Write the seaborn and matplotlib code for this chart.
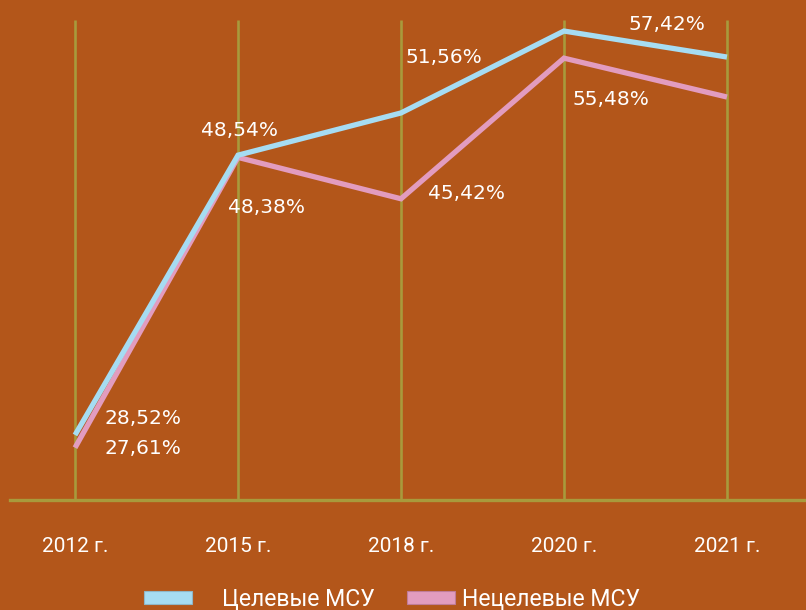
import matplotlib
matplotlib.use("Agg")
import matplotlib.pyplot as plt
from matplotlib.patches import Patch
import seaborn as sns
import pandas as pd

# Data
years = ["2012 г.", "2015 г.", "2018 г.", "2020 г.", "2021 г."]
target_msu = [28.52, 48.54, 51.56, 57.42, 55.56]
nontarget_msu = [27.61, 48.38, 45.42, 55.48, 52.70]
series_names = ["Целевые МСУ", "Нецелевые МСУ"]
target_labels = ["28,52%", "48,54%", "51,56%", "57,42%", None]
nontarget_labels = ["27,61%", "48,38%", "45,42%", "55,48%", None]

BG = "#B3561A"
GRID = "#A89A3C"
BLUE = "#A6DCF2"
PINK = "#E29CBF"

sns.set_theme(style="white")
plt.rcParams["font.family"] = ["DejaVu Sans"]
NARROW = ["Roboto", "DejaVu Sans"]

pos = list(range(len(years)))
df = pd.DataFrame({
    "pos": pos * 2,
    "value": target_msu + nontarget_msu,
    "series": [series_names[0]] * len(years) + [series_names[1]] * len(years),
})

fig = plt.figure(figsize=(8.06, 6.10), dpi=100, facecolor=BG)
ax = fig.add_axes([10 / 806, 1 - 500 / 610, 796 / 806, 480 / 610])
ax.set_facecolor(BG)

# vertical guides at each year
for p in pos:
    ax.axvline(p, color=GRID, lw=1.9, zorder=1)

sns.lineplot(data=df, x="pos", y="value", hue="series", sort=False,
             palette={series_names[0]: BLUE, series_names[1]: PINK},
             hue_order=[series_names[1], series_names[0]],
             lw=3.8, ax=ax, legend=False, zorder=3)
for line in ax.get_lines():
    line.set_solid_capstyle("butt")
    line.set_solid_joinstyle("miter")
    line.set_clip_on(False)

ax.set_xlim(-0.399, 4.485)
ax.set_ylim(23.87, 58.21)

for s in ["top", "right", "left"]:
    ax.spines[s].set_visible(False)
ax.spines["bottom"].set_color(GRID)
ax.spines["bottom"].set_linewidth(2.4)

ax.set_xticks(pos)
ax.set_xticklabels(years, color="white", fontsize=15, family=NARROW)
ax.tick_params(axis="x", length=0, pad=27)
ax.set_yticks([])
ax.set_xlabel("")
ax.set_ylabel("")

# value labels (pixel offsets from each point)
t_off = [(68, 17), (1, 25), (43, 55), (103, 7), None]
n_off = [(68, -1), (28, -50), (66, 5), (47, -41), None]
for i in pos:
    for vals, labels, offs in ((target_msu, target_labels, t_off),
                               (nontarget_msu, nontarget_labels, n_off)):
        if labels[i] is None:
            continue
        ax.annotate(labels[i], (i, vals[i]), xytext=offs[i],
                    textcoords="offset pixels", ha="center", va="center",
                    color="white", fontsize=14.5, zorder=5,
                    annotation_clip=False)

# legend: one entry per series, each placed under the chart
handles = [Patch(facecolor=BLUE, edgecolor="#8FB6C6", lw=0.8),
           Patch(facecolor=PINK, edgecolor="#C07C98", lw=0.8)]
anchors = [(144 / 806, 1 - 599 / 610), (407 / 806, 1 - 599 / 610)]
pads = [1.3, 0.3]
for h, name, anchor, pad in zip(handles, series_names, anchors, pads):
    leg = fig.legend([h], [name], loc="center left", bbox_to_anchor=anchor,
                     frameon=False, handlelength=2.1, handleheight=0.48,
                     handletextpad=pad, borderpad=0, borderaxespad=0,
                     prop={"family": NARROW, "size": 16.6})
    for t in leg.get_texts():
        t.set_color("white")

fig.savefig("out.png", dpi=100, facecolor=BG)
